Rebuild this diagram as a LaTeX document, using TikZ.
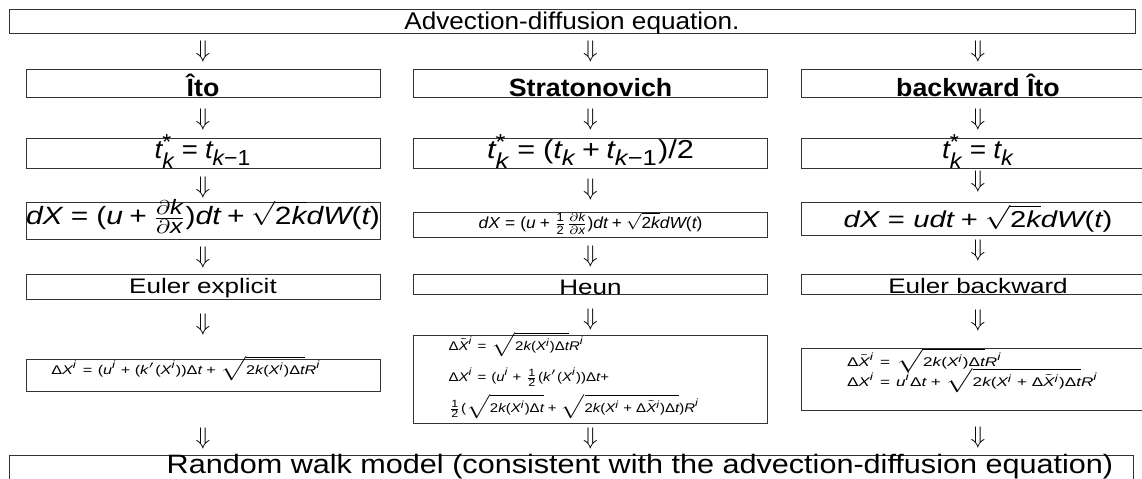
\documentclass[tikz,border=0pt]{standalone}
\usepackage{fontspec}
\setmainfont{Liberation Sans}
\usepackage[italic]{mathastext}
\usepackage{graphicx}
\usetikzlibrary{positioning}
% upright sans for digits, signs and brackets in math
\DeclareSymbolFont{sfup}{TU}{\rmdefault}{m}{n}
\AtBeginDocument{%
    \Umathcode 61 = 3 \symsfup 61\relax
    \Umathcode 43 = 2 \symsfup 43\relax
    \Umathcode 45 = 2 \symsfup "2212\relax
    \Umathcode 40 = 4 \symsfup 40\relax
    \Umathcode 41 = 5 \symsfup 41\relax
    \Umathcode 47 = 0 \symsfup 47\relax
    \Umathcode 42 = 0 \symsfup 42\relax
    \Umathcode 48 = 0 \symsfup 48\relax
    \Umathcode 49 = 0 \symsfup 49\relax
    \Umathcode 50 = 0 \symsfup 50\relax
    \Umathchardef\Delta = 0 \symsfup "0394\relax
}
\newcommand{\wide}[2]{\scalebox{#1}[1]{#2}}
\tikzset{
    box/.style={rectangle, draw=black!80, line width=0.5pt, inner sep=0pt, minimum width=177pt},
    down/.style={inner sep=0pt, font=\fontsize{13}{13}\selectfont},
    method/.style={box, minimum height=14pt, text height=13.5pt, text depth=0.5pt, font=\fontsize{12.5}{14}\selectfont\bfseries},
    timebox/.style={box, minimum height=15pt, text height=10pt, text depth=5pt, font=\fontsize{13}{14}\selectfont},
    scheme/.style={box, font=\fontsize{10.5}{12}\selectfont},
    stepbox/.style={box, align=left}
}
\begin{document}
\begin{tikzpicture}[x=0.5pt, y=-0.5pt]
    \useasboundingbox (0,0) rectangle (1142,478);
    % equation and the three interpretations
    \node[box, minimum width=563pt, minimum height=12pt, text height=10pt, text depth=2pt, font=\fontsize{12.1}{14}\selectfont] (adv) at (572,21) {\wide{1.08}{Advection-diffusion equation.}};
    \node[down] (d1l) at (203,51.5) {$\Downarrow$};
    \node[down] (d1m) at (590.5,51.5) {$\Downarrow$};
    \node[down] (d1r) at (978,51.5) {$\Downarrow$};
    \node[method] (ito) at (203,83) {\wide{1.07}{Îto}};
    \node[method] (strat) at (590.5,83) {\wide{1.07}{Stratonovich}};
    \node[method] (back) at (978,83) {\wide{1.07}{backward Îto}};
    \node[down] (d2l) at (203,119) {$\Downarrow$};
    \node[down] (d2m) at (590.5,119) {$\Downarrow$};
    \node[down] (d2r) at (978,119) {$\Downarrow$};
    % time points
    \node[timebox] (itotime) at (203,153) {\wide{1.06}{$t_k^* = t_{k-1}$}};
    \node[timebox] (strattime) at (590.5,153) {\wide{1.18}{$t_k^* = (t_k + t_{k-1})/2$}};
    \node[timebox] (backtime) at (978,153) {\wide{1.08}{$t_k^* = t_k$}};
    \node[down] (d3l) at (203,187) {$\Downarrow$};
    \node[down] (d3m) at (590.5,189) {$\Downarrow$};
    \node[down] (d3r) at (978,181) {$\Downarrow$};
    % stochastic differential equations
    \node[box, minimum height=18.5pt, text height=11pt, text depth=7.5pt, font=\fontsize{12.5}{14}\selectfont] (itosde) at (203,220.5) {\wide{1.2}{$dX = (u + \frac{\partial k}{\partial x})dt + \sqrt{2k}dW(t)$}};
    \node[box, minimum height=12.5pt, text height=8pt, text depth=4.5pt, font=\fontsize{8}{10}\selectfont] (stratsde) at (590.5,224.5) {\wide{1.085}{$dX = (u + \frac{1}{2}\frac{\partial k}{\partial x})dt + \sqrt{2k}dW(t)$}};
    \node[box, minimum height=16.5pt, text height=12.5pt, text depth=4pt, font=\fontsize{11.5}{13}\selectfont] (backsde) at (978,218.5) {\wide{1.27}{$dX = udt + \sqrt{2k}dW(t)$}};
    \node[down] (d4l) at (203,257) {$\Downarrow$};
    \node[down] (d4m) at (590.5,256) {$\Downarrow$};
    \node[down] (d4r) at (978,250) {$\Downarrow$};
    % schemes
    \node[scheme, minimum height=12.5pt, text height=9.5pt, text depth=3pt] (itoscheme) at (203,286.5) {\wide{1.24}{Euler explicit}};
    \node[scheme, minimum height=10pt, text height=10pt, text depth=0pt] (stratscheme) at (590.5,284) {\wide{1.24}{Heun}};
    \node[scheme, minimum height=10pt, text height=9.5pt, text depth=0.5pt] (backscheme) at (978,284) {\wide{1.24}{Euler backward}};
    \node[down] (d5l) at (203,324) {$\Downarrow$};
    \node[down] (d5m) at (590.5,319) {$\Downarrow$};
    \node[down] (d5r) at (978,320) {$\Downarrow$};
    % one step of the walk
    \node[box, minimum height=16pt, text height=7.5pt, text depth=8.5pt, font=\fontsize{6.3}{8}\selectfont] (itostep) at (203,375) {\wide{1.29}{$\Delta X^i = (u^i + (k'(X^i))\Delta t + \sqrt{2k(X^i)\Delta t}R^i$}\hspace*{17pt}};
    \node[stepbox, minimum height=44pt, text height=7.5pt, text depth=36.5pt, inner xsep=17.5pt, text width=142pt, font={\fontsize{6.3}{15.5}\selectfont\lineskiplimit=-20pt}] (stratstep) at (590.5,379) {\wide{1.19}{$\Delta\tilde X^i = \sqrt{2k(X^i)\Delta t}R^i$}\\
        \wide{1.19}{$\Delta X^i = (u^i + \frac{1}{2}(k'(X^i))\Delta t +$}\\
        \wide{1.19}{$\frac{1}{2}(\sqrt{2k(X^i)\Delta t} + \sqrt{2k(X^i + \Delta\tilde X^i)\Delta t})R^i$}};
    \node[stepbox, minimum height=31pt, text height=9pt, text depth=22pt, inner xsep=23pt, text width=131pt, font={\fontsize{6.3}{10}\selectfont\lineskiplimit=-20pt}] (backstep) at (978,379) {\wide{1.36}{$\Delta\tilde X^i = \sqrt{2k(X^i)\Delta t}R^i$}\\
        \wide{1.36}{$\Delta X^i = u^i\Delta t + \sqrt{2k(X^i + \Delta\tilde X^i)\Delta t}R^i$}};
    \node[down] (d6l) at (203,438) {$\Downarrow$};
    \node[down] (d6m) at (590.5,438) {$\Downarrow$};
    \node[down] (d6r) at (978,437) {$\Downarrow$};
    \node[box, minimum width=562pt, minimum height=15pt, text height=9pt, text depth=6pt, font=\fontsize{13.3}{15}\selectfont] (walk) at (571,470) {\hspace*{69pt}\wide{1.15}{Random walk model (consistent with the advection-diffusion equation)}};
\end{tikzpicture}
\end{document}
